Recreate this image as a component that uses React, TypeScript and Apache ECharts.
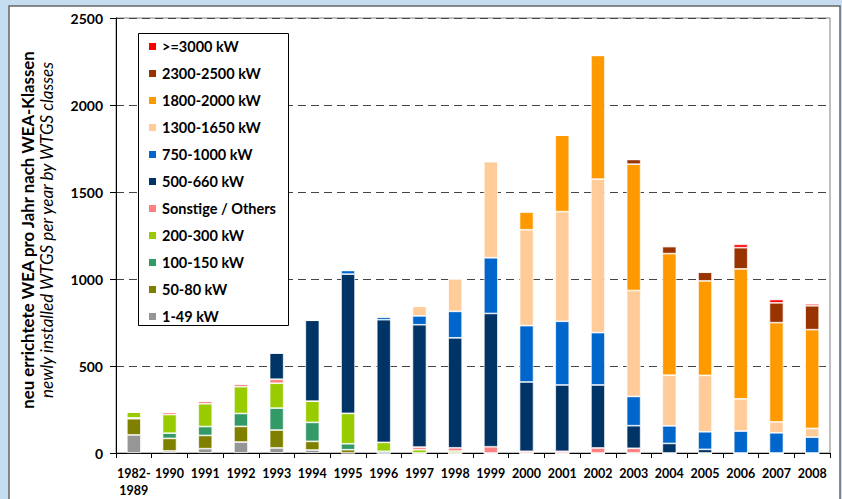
import React, { useEffect, useRef } from "react";
import * as echarts from "echarts";

const categories = ["1982-\n1989", "1990", "1991", "1992", "1993", "1994", "1995", "1996", "1997", "1998", "1999", "2000", "2001", "2002", "2003", "2004", "2005", "2006", "2007", "2008"];

const kw1_49 = [104, 12, 25, 63, 29, 17, 0, 0, 0, 0, 0, 0, 0, 0, 0, 0, 0, 0, 0, 0];
const kw50_80 = [93, 72, 76, 90, 103, 50, 19, 0, 0, 0, 0, 0, 0, 0, 0, 0, 0, 0, 0, 0];
const kw100_150 = [5, 30, 51, 74, 126, 109, 34, 10, 0, 0, 0, 0, 0, 0, 0, 0, 0, 0, 0, 0];
const kw200_300 = [35, 107, 131, 154, 143, 122, 175, 51, 19, 11, 0, 0, 0, 0, 0, 0, 0, 0, 0, 0];
const others = [0, 15, 17, 17, 23, 0, 0, 0, 15, 19, 36, 10, 10, 29, 27, 0, 0, 0, 0, 0];
const kw500_660 = [0, 0, 0, 0, 152, 465, 800, 705, 703, 632, 766, 398, 381, 362, 130, 55, 21, 0, 0, 0];
const kw750_1000 = [0, 0, 0, 0, 0, 0, 21, 17, 51, 152, 320, 324, 366, 301, 168, 101, 101, 126, 116, 91];
const kw1300_1650 = [0, 0, 0, 0, 0, 0, 0, 0, 55, 188, 553, 551, 630, 882, 609, 291, 324, 185, 63, 50];
const kw1800_2000 = [0, 0, 0, 0, 0, 0, 0, 0, 0, 0, 0, 103, 440, 711, 726, 699, 543, 747, 570, 568];
const kw2300_2500 = [0, 0, 0, 0, 0, 0, 0, 0, 0, 0, 0, 0, 0, 0, 27, 40, 50, 122, 114, 137];
const kw3000 = [0, 0, 0, 0, 0, 0, 0, 0, 0, 0, 0, 0, 0, 0, 0, 5, 0, 19, 19, 11];

const yTicks = [0, 500, 1000, 1500, 2000, 2500];

const seriesDefs = [
  { name: "1-49 kW", data: kw1_49, color: "#969696" },
  { name: "50-80 kW", data: kw50_80, color: "#808000" },
  { name: "100-150 kW", data: kw100_150, color: "#339966" },
  { name: "200-300 kW", data: kw200_300, color: "#99cc00" },
  { name: "Sonstige / Others", data: others, color: "#ff8080" },
  { name: "500-660 kW", data: kw500_660, color: "#003366" },
  { name: "750-1000 kW", data: kw750_1000, color: "#0066cc" },
  { name: "1300-1650 kW", data: kw1300_1650, color: "#ffcc99" },
  { name: "1800-2000 kW", data: kw1800_2000, color: "#ff9900" },
  { name: "2300-2500 kW", data: kw2300_2500, color: "#993300" },
  { name: ">=3000 kW", data: kw3000, color: "#ff0000" },
];

const FONT = "Lato, 'Open Sans', sans-serif";

export default function App() {
  const ref = useRef<HTMLDivElement>(null);
  useEffect(() => {
    if (!ref.current) return;
    const chart = echarts.init(ref.current, null, { renderer: "svg" });
    chart.setOption({
      animation: false,
      backgroundColor: "#c6dcf0",
      textStyle: { fontFamily: FONT },
      graphic: [
        {
          type: "rect",
          z: -10,
          shape: { x: 9, y: 6, width: 831, height: 510 },
          style: { fill: "#ffffff", stroke: "#666666", lineWidth: 1.5 },
          silent: true,
        },
        {
          type: "rect",
          z: 1,
          shape: { x: 138.5, y: 33.5, width: 150, height: 292 },
          style: { fill: "#ffffff", stroke: "#000000", lineWidth: 1 },
          silent: true,
        },
        {
          type: "text",
          x: 27,
          y: 230,
          rotation: Math.PI / 2,
          style: {
            text: "neu errichtete WEA pro Jahr nach WEA-Klassen",
            font: `bold 16.8px ${FONT}`,
            fill: "#000",
            align: "center",
            verticalAlign: "middle",
          },
        },
        {
          type: "text",
          x: 46,
          y: 230,
          rotation: Math.PI / 2,
          style: {
            text: "newly installed WTGS per year by WTGS classes",
            font: `italic 17px ${FONT}`,
            fill: "#000",
            align: "center",
            verticalAlign: "middle",
          },
        },
      ],
      legend: {
        orient: "vertical",
        left: 139,
        top: 34,
        padding: [5, 8, 4, 8],
        itemWidth: 9,
        itemHeight: 9,
        itemGap: 12,
        z: 5,
        data: seriesDefs.map((s) => s.name).reverse(),
        textStyle: { fontFamily: FONT, fontWeight: "bold", fontSize: 14.5, color: "#000", lineHeight: 15 },
        icon: "rect",
      },
      grid: {
        left: 116,
        top: 18,
        right: 12,
        bottom: 43,
        show: true,
        borderColor: "#808080",
        borderWidth: 1,
        backgroundColor: "transparent",
      },
      xAxis: {
        type: "category",
        data: categories,
        axisLine: { lineStyle: { color: "#000", width: 1 } },
        axisTick: { show: true, length: 5, lineStyle: { color: "#000" } },
        axisLabel: {
          fontFamily: FONT,
          fontWeight: "bold",
          fontSize: 12.5,
          color: "#000",
          margin: 12,
          lineHeight: 17,
          interval: 0,
          verticalAlign: "top",
        },
      },
      yAxis: {
        type: "value",
        min: 0,
        max: 2500,
        interval: 500,
        axisLine: { show: true, lineStyle: { color: "#000", width: 1 } },
        axisTick: { show: true, length: 6, lineStyle: { color: "#000" } },
        axisLabel: {
          fontFamily: FONT,
          fontWeight: "bold",
          fontSize: 14,
          color: "#000",
          margin: 13,
          formatter: (v: number) => (yTicks.includes(v) ? String(v) : ""),
        },
        splitLine: { show: true, lineStyle: { color: "#444", type: [8, 5], width: 1 } },
      },
      series: seriesDefs.map((s) => ({
        name: s.name,
        type: "bar",
        stack: "total",
        data: s.data,
        barWidth: 14,
        itemStyle: { color: s.color, borderColor: "#ffffff", borderWidth: 0.7 },
        emphasis: { disabled: true },
      })),
    });
    return () => chart.dispose();
  }, []);
  return <div ref={ref} style={{ position: "absolute", left: 0, top: 0, width: 842, height: 499 }} />;
}
